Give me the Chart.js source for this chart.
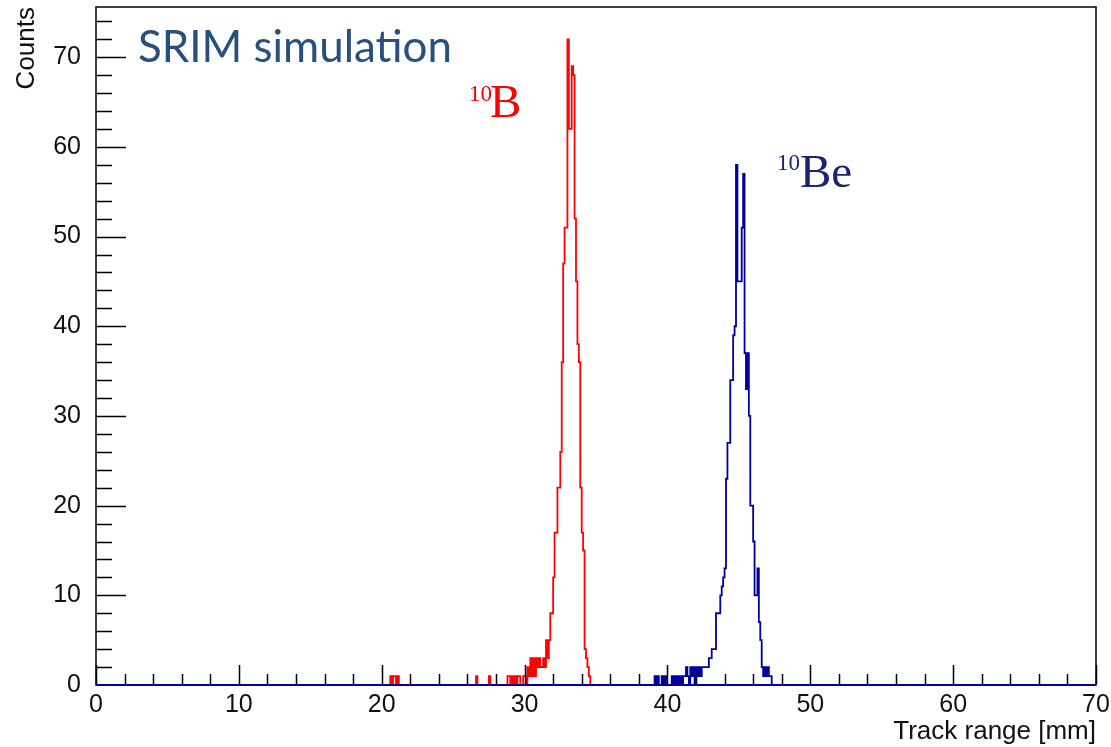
<!DOCTYPE html>
<html>
<head>
<meta charset="utf-8">
<script src="https://cdn.jsdelivr.net/npm/chart.js@4.4.1/dist/chart.umd.min.js"></script>
<style>
  html, body { margin: 0; padding: 0; background: #fff; }
  #wrap { width: 1111px; height: 747px; }
</style>
</head>
<body>
<div id="wrap"><canvas id="rangeChart"></canvas></div>
<script>
// 700 bins of 0.1 mm between 0 and 70 mm
const binWidth = 0.1;
const nBins = 700;

// 10B: a few isolated counts, then the main peak around 33 mm
const redScatterBins = [206, 208, 209, 211, 266, 275, 288, 289, 291, 293, 295, 296];
const redScatterCounts = [1, 1, 1, 1, 1, 1, 1, 1, 1, 1, 1, 1];
const redPeakFirstBin = 299;
const redPeakCounts = [
  1, 1, 0, 2, 1, 3, 1, 3, 1, 3,        // 29.9 - 30.8
  2, 3, 2, 2, 3, 2, 5, 3, 5, 8,        // 30.9 - 31.8
  8, 12, 17, 17, 22, 22, 26, 36, 47, 51, // 31.9 - 32.8
  51, 72, 62, 62, 69, 68, 52, 45, 38, 36, // 32.9 - 33.8
  22, 17, 15, 4, 3, 2, 1               // 33.9 - 34.5
];

// 10Be: isolated counts below 41 mm, then the peak around 45 mm
const blueScatterBins = [391, 393, 396, 398, 403, 405, 407, 409, 411];
const blueScatterCounts = [1, 1, 1, 1, 1, 1, 1, 1, 1];
const bluePeakFirstBin = 412;
const bluePeakCounts = [
  1, 2, 1, 0, 2, 1, 2, 0, 2, 1,         // 41.2 - 42.1
  2, 1, 2, 2, 2, 2, 2, 3, 3, 4,         // 42.2 - 43.1
  4, 4, 8, 8, 8, 10, 11, 12, 13, 23,    // 43.2 - 44.1
  27, 27, 34, 34, 39, 40, 58, 45, 45, 45, // 44.2 - 45.1
  51, 57, 37, 33, 37, 30, 20, 20, 16, 10, // 45.2 - 46.1
  10, 13, 7, 5, 2, 1, 2, 1, 2, 1,       // 46.2 - 47.1
  1                                     // 47.2
];

const xTickValues = [0, 10, 20, 30, 40, 50, 60, 70];
const yTickValues = [0, 10, 20, 30, 40, 50, 60, 70];
const yMax = 75.6;

const blueColor = '#00009c';
const redColor = '#ff0000';

function histogram(firstBin, peak, scatterBins, scatterCounts) {
  const counts = new Array(nBins).fill(0);
  scatterBins.forEach((b, i) => { counts[b] = scatterCounts[i]; });
  peak.forEach((c, i) => { counts[firstBin + i] = c; });
  const pts = counts.map((c, i) => ({ x: +(i * binWidth).toFixed(1), y: c }));
  pts.push({ x: nBins * binWidth, y: counts[nBins - 1] });
  return pts;
}

Chart.defaults.font.family = "'Liberation Sans', Arial, sans-serif";
Chart.defaults.color = '#000';

// ROOT-like frame, inward ticks and the text labels
const rootFrame = {
  id: 'rootFrame',
  beforeDatasetsDraw(chart) {
    const { ctx, chartArea: a } = chart;
    ctx.save();
    ctx.strokeStyle = '#000';
    ctx.lineWidth = 1.5;
    ctx.strokeRect(a.left, a.top, a.right - a.left, a.bottom - a.top);
    ctx.restore();
  },
  afterDatasetsDraw(chart) {
    const { ctx, chartArea: a, scales: { x, y } } = chart;
    ctx.save();

    // zero line of the 10Be histogram runs over the whole axis
    const y0 = y.getPixelForValue(0);
    ctx.strokeStyle = blueColor;
    ctx.lineWidth = 1.8;
    ctx.beginPath();
    ctx.moveTo(x.getPixelForValue(0), y0);
    ctx.lineTo(x.getPixelForValue(70), y0);
    ctx.stroke();

    ctx.strokeStyle = '#000';
    ctx.lineWidth = 1.5;
    ctx.beginPath();
    for (let v = 0; v <= 70; v += 2) {
      const px = Math.round(x.getPixelForValue(v)) + 0.5;
      const len = v % 10 === 0 ? 20 : 11;
      ctx.moveTo(px, a.bottom - 1);
      ctx.lineTo(px, a.bottom - len);
    }
    for (let v = 0; v <= yMax; v += 2) {
      const py = Math.round(y.getPixelForValue(v)) + 0.5;
      if (v === 0) continue;
      const len = v % 10 === 0 ? 30 : 16;
      ctx.moveTo(a.left, py);
      ctx.lineTo(a.left + len, py);
    }
    ctx.stroke();

    // panel title
    ctx.fillStyle = '#27507e';
    ctx.textBaseline = 'alphabetic';
    ctx.textAlign = 'left';
    let size = 40;
    ctx.font = size + "px Lato, 'Open Sans', sans-serif";
    size = size * 314 / ctx.measureText('SRIM simulation').width;
    ctx.font = size.toFixed(1) + "px Lato, 'Open Sans', sans-serif";
    ctx.fillText('SRIM simulation', 138, 62);

    // isotope labels
    const serif = "'Liberation Serif', 'Times New Roman', serif";
    ctx.fillStyle = redColor;
    ctx.font = '23px ' + serif;
    ctx.fillText('10', 469, 101);
    ctx.font = '47px ' + serif;
    ctx.fillText('B', 490, 117);

    ctx.fillStyle = '#1a2470';
    ctx.font = '23px ' + serif;
    ctx.fillText('10', 777, 170);
    ctx.font = '47px ' + serif;
    ctx.fillText('Be', 800, 187);
    ctx.restore();
  }
};

const ctx = document.getElementById('rangeChart').getContext('2d');
const rangeChart = new Chart(ctx, {
  type: 'line',
  data: {
    datasets: [{
      label: '10Be',
      data: histogram(bluePeakFirstBin, bluePeakCounts, blueScatterBins, blueScatterCounts),
      borderColor: blueColor,
      borderWidth: 1.8,
      stepped: true,
      pointRadius: 0,
      borderJoinStyle: 'miter',
      fill: false,
      order: 1
    }, {
      label: '10B',
      data: histogram(redPeakFirstBin, redPeakCounts, redScatterBins, redScatterCounts),
      borderColor: redColor,
      borderWidth: 1.8,
      stepped: true,
      pointRadius: 0,
      borderJoinStyle: 'miter',
      fill: false,
      order: 2
    }]
  },
  options: {
    responsive: true,
    maintainAspectRatio: false,
    animation: false,
    layout: { padding: { left: 0, top: 7, right: 15, bottom: 0 } },
    plugins: {
      legend: { display: false },
      tooltip: { enabled: false }
    },
    scales: {
      x: {
        type: 'linear',
        min: 0,
        max: 70,
        grid: { display: false },
        border: { display: false },
        afterBuildTicks: s => { s.ticks = xTickValues.map(v => ({ value: v })); },
        afterFit: s => {
          s.height = 62;
          s.paddingLeft = 0;
          s.paddingRight = 0;
        },
        ticks: {
          maxRotation: 0,
          autoSkip: false,
          padding: -3,
          color: '#111',
          font: { size: 25 }
        },
        title: {
          display: true,
          text: 'Track range [mm]',
          align: 'end',
          color: '#111',
          font: { size: 26 },
          padding: { top: 0, bottom: 0 }
        }
      },
      y: {
        min: 0,
        max: yMax,
        grid: { display: false },
        border: { display: false },
        afterBuildTicks: s => { s.ticks = yTickValues.map(v => ({ value: v })); },
        afterFit: s => {
          s.width = 96;
          s.paddingTop = 0;
          s.paddingBottom = 0;
        },
        ticks: {
          padding: 7,
          color: '#111',
          font: { size: 25 }
        },
        title: {
          display: true,
          text: 'Counts',
          align: 'end',
          color: '#111',
          font: { size: 26 },
          padding: { top: 11, bottom: 0 }
        }
      }
    }
  },
  plugins: [rootFrame]
});
</script>
</body>
</html>
